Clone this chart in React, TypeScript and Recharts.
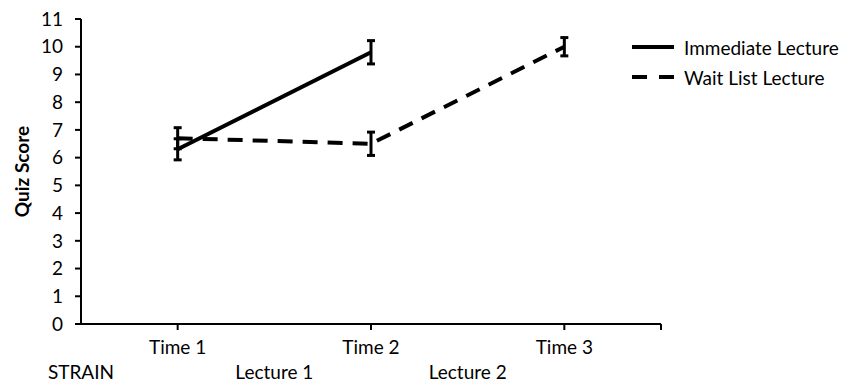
import React from 'react';
import { LineChart, Line, XAxis, YAxis, ErrorBar, Legend } from 'recharts';

const times = [1, 2, 3];
const timeLabels = ['Time 1', 'Time 2', 'Time 3'];
const immediate = [6.3, 9.8, null];
const immediateErr = [0.38, 0.42, null];
const waitList = [6.7, 6.5, 10.0];
const waitListErr = [0.38, 0.42, 0.33];
const phaseTicks = [0.5, 1.5, 2.5];
const phaseLabels = ['STRAIN', 'Lecture 1', 'Lecture 2'];
const yTicks = [0, 1, 2, 3, 4, 5, 6, 7, 8, 9, 10, 11];

const data = times.map((t, i) => ({
  t,
  immediate: immediate[i],
  immediateErr: immediateErr[i],
  waitList: waitList[i],
  waitListErr: waitListErr[i],
}));

const FONT = 'Lato, "Open Sans", sans-serif';
const DASH = '15 10';

const legendItems = [
  { name: 'Immediate Lecture', dash: undefined as string | undefined },
  { name: 'Wait List Lecture', dash: DASH },
];

const ChartLegend = () => (
  <div style={{ fontFamily: FONT, fontSize: 19, color: '#000', textAlign: 'left' }}>
    {legendItems.map((item) => (
      <div key={item.name} style={{ display: 'flex', alignItems: 'center', height: 30 }}>
        <svg width={42} height={10} style={{ marginRight: 10 }}>
          <line x1={0} y1={5} x2={42} y2={5} stroke="#000" strokeWidth={4} strokeDasharray={item.dash ? '15 12' : undefined} />
        </svg>
        <span>{item.name}</span>
      </div>
    ))}
  </div>
);

const timeFormatter = (v: number) => {
  const i = times.indexOf(v);
  return i >= 0 ? timeLabels[i] : '';
};

const phaseFormatter = (v: number) => {
  const i = phaseTicks.indexOf(v);
  return i >= 0 ? phaseLabels[i] : '';
};

export default function App() {
  return (
    <div style={{ position: 'absolute', left: 0, top: 0, background: '#fff' }}>
      <LineChart width={842} height={383} data={data} margin={{ top: 19, right: 181, bottom: 0, left: 21 }}>
        <XAxis
          dataKey="t"
          type="number"
          domain={[0.5, 3.5]}
          allowDataOverflow
          ticks={[...times, 3.5]}
          tickFormatter={timeFormatter}
          interval={0}
          height={30}
          tickSize={6}
          tickMargin={11}
          axisLine={{ stroke: '#000', strokeWidth: 2 }}
          tickLine={{ stroke: '#000', strokeWidth: 2 }}
          tick={{ fill: '#000', fontSize: 19, fontFamily: FONT }}
        />
        <XAxis
          xAxisId="phase"
          dataKey="t"
          type="number"
          domain={[0.5, 3.5]}
          allowDataOverflow
          ticks={phaseTicks}
          tickFormatter={phaseFormatter}
          interval={0}
          height={29}
          tickSize={0}
          tickMargin={12}
          axisLine={false}
          tickLine={false}
          tick={{ fill: '#000', fontSize: 19, fontFamily: FONT }}
        />
        <YAxis
          type="number"
          domain={[0, 11]}
          ticks={yTicks}
          interval={0}
          width={60}
          tickSize={6}
          tickMargin={12}
          axisLine={{ stroke: '#000', strokeWidth: 2 }}
          tickLine={{ stroke: '#000', strokeWidth: 2 }}
          tick={{ fill: '#000', fontSize: 19, fontFamily: FONT }}
          label={{
            value: 'Quiz Score',
            angle: -90,
            position: 'insideLeft',
            offset: 1,
            style: { textAnchor: 'middle', fontWeight: 700, fontSize: 19, fontFamily: FONT, fill: '#000' },
          }}
        />
        <Legend
          layout="horizontal"
          verticalAlign="middle"
          align="center"
          content={<ChartLegend />}
          wrapperStyle={{ left: 632, top: 32, width: 210, right: 'auto', bottom: 'auto' }}
        />
        <Line
          type="linear"
          dataKey="immediate"
          stroke="#000"
          strokeWidth={4}
          dot={false}
          activeDot={false}
          isAnimationActive={false}
          connectNulls={false}
        >
          <ErrorBar dataKey="immediateErr" direction="y" width={4} stroke="#000" strokeWidth={3} />
        </Line>
        <Line
          type="linear"
          dataKey="waitList"
          stroke="#000"
          strokeWidth={4}
          strokeDasharray={DASH}
          dot={false}
          activeDot={false}
          isAnimationActive={false}
        >
          <ErrorBar dataKey="waitListErr" direction="y" width={4} stroke="#000" strokeWidth={3} />
        </Line>
      </LineChart>
    </div>
  );
}
